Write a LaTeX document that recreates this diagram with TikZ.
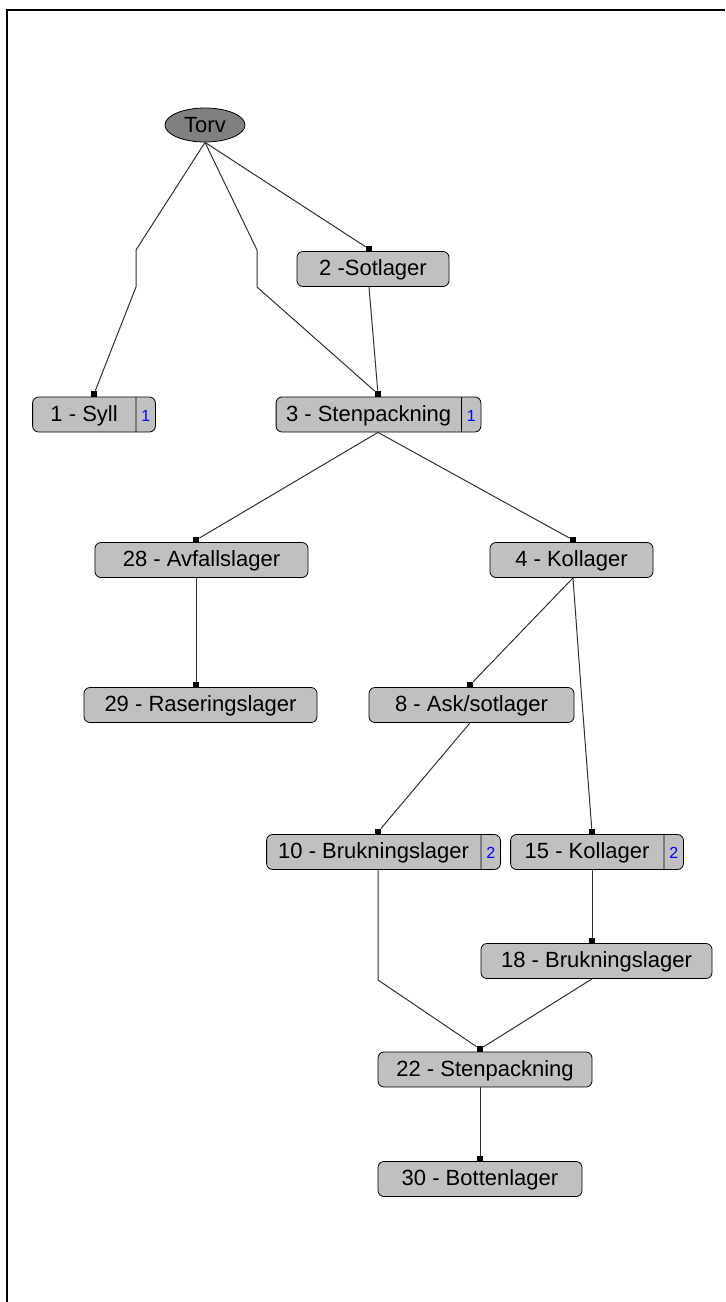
\documentclass[tikz,border=0pt]{standalone}
\usepackage{fontspec}
\setmainfont{Liberation Sans}
\usepackage{xcolor}
\usetikzlibrary{shapes.geometric,shapes.multipart}

\definecolor{laygray}{HTML}{C0C0C0}
\definecolor{rootgray}{HTML}{808080}
\definecolor{linkgray}{HTML}{303030}
\newcommand\laystrut{\rule[-4.5pt]{0pt}{15.5pt}}
\newcommand\tagnum[1]{\makebox[7.5pt]{\fontsize{8}{9}\selectfont\color{blue}#1}\laystrut}

\tikzset{
	lay/.style={draw=black,fill=laygray,rounded corners=3pt,minimum height=17.5pt,inner sep=1pt,
		font=\fontsize{11}{12}\selectfont,execute at begin node=\laystrut},
	laysplit/.style={lay,rectangle split,rectangle split horizontal,rectangle split parts=2},
	rootnode/.style={ellipse,draw=black,fill=rootgray,minimum width=40pt,minimum height=17pt,
		inner sep=0pt,font=\fontsize{11}{12}\selectfont},
	hook/.style={fill=black,minimum size=3pt,inner sep=0pt},
	link/.style={draw=linkgray,line width=0.5pt}
}

\begin{document}
\begin{tikzpicture}[x=0.5pt,y=-0.5pt]
			\useasboundingbox (0,0) rectangle (725,1302);
			\draw[line width=1pt] (7,1302)--(7,10)--(725,10);
			
			% layers
			\node[rootnode] (torv) at (205,125) {Torv};
			\node[lay,minimum width=76pt] (n2) at (373,269) {2 -Sotlager};
			\node[laysplit] (n1) at (94,414.5) {\makebox[49.5pt]{1 - Syll}\nodepart{two}\tagnum{1}};
			\node[laysplit] (n3) at (378.5,414.5) {\makebox[90.5pt]{3 - Stenpackning}\nodepart{two}\tagnum{1}};
			\node[lay,minimum width=106.5pt] (n28) at (201.5,560) {28 - Avfallslager};
			\node[lay,minimum width=81.5pt] (n4) at (571.5,560) {4 - Kollager};
			\node[lay,minimum width=116.5pt] (n29) at (200.5,705) {29 - Raseringslager};
			\node[lay,minimum width=102.5pt] (n8) at (471.5,705) {8 - Ask/sotlager};
			\node[laysplit] (n10) at (383.5,852) {\makebox[105pt]{10 - Brukningslager}\nodepart{two}\tagnum{2}};
			\node[laysplit] (n15) at (597,852) {\makebox[74.5pt]{15 - Kollager}\nodepart{two}\tagnum{2}};
			\node[lay,minimum width=115.5pt] (n18) at (596.5,961) {18 - Brukningslager};
			\node[lay,minimum width=107pt] (n22) at (485,1069.5) {22 - Stenpackning};
			\node[lay,minimum width=102pt] (n30) at (480,1179) {30 - Bottenlager};
			
			% hooks on top of the layers
			\node[hook] (m2) at (369,249) {};
			\node[hook] (m1) at (94,394) {};
			\node[hook] (m3) at (378,394) {};
			\node[hook] (m28) at (196,540) {};
			\node[hook] (m4) at (573,540) {};
			\node[hook] (m29) at (196,685) {};
			\node[hook] (m8) at (470,685) {};
			\node[hook] (m10) at (378,832) {};
			\node[hook] (m15) at (592,832) {};
			\node[hook] (m18) at (592,941) {};
			\node[hook] (m22) at (480,1049) {};
			\node[hook] (m30) at (480,1159) {};
			
			% links
			\draw[link] (torv.south)--(136,250)--(136,287)--(m1);
			\draw[link] (torv.south)--(257,250)--(257,287)--(m3);
			\draw[link] (torv.south)--(m2);
			\draw[link] (m2 |- n2.south)--(m3);
			\draw[link] (m3 |- n3.south)--(m28);
			\draw[link] (m3 |- n3.south)--(m4);
			\draw[link] (m28 |- n28.south)--(m29);
			\draw[link] (m4 |- n4.south)--(m8);
			\draw[link] (m4 |- n4.south)--(581,688)--(m15);
			\draw[link] (m8 |- n8.south)--(m10);
			\draw[link] (m10 |- n10.south)--(378,980)--(m22);
			\draw[link] (m15 |- n15.south)--(m18);
			\draw[link] (m18 |- n18.south)--(m22);
			\draw[link] (m22 |- n22.south)--(m30);
\end{tikzpicture}
\end{document}
